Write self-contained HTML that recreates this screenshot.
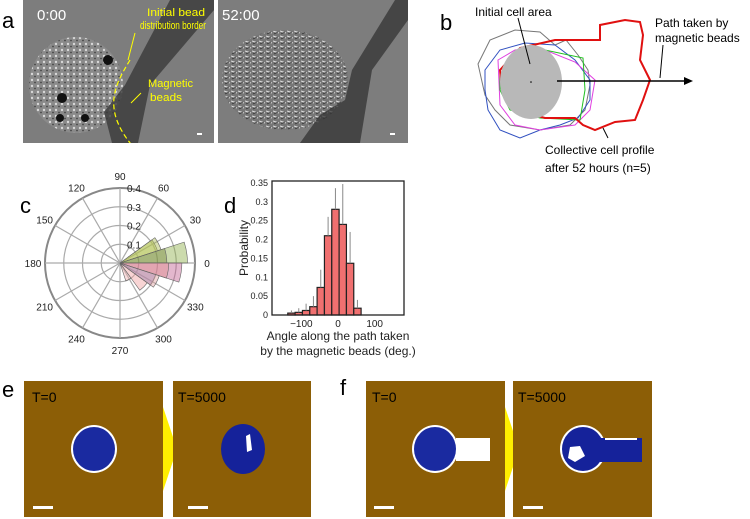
<!DOCTYPE html>
<html><head><meta charset="utf-8">
<style>
body{margin:0;background:#fff;width:750px;height:519px;overflow:hidden;font-family:"Liberation Sans",sans-serif;}
svg{display:block}
</style></head>
<body>
<svg id="fig" width="750" height="519" viewBox="0 0 750 519">
<defs>
<pattern id="tex" width="6" height="6" patternUnits="userSpaceOnUse">
<rect width="6" height="6" fill="#8a8a8a"/><circle cx="2" cy="2" r="1.2" fill="#d8d8d8"/><circle cx="5" cy="4.5" r="0.9" fill="#444"/>
</pattern>
<pattern id="tex2" width="7" height="5" patternUnits="userSpaceOnUse">
<rect width="7" height="5" fill="#777"/><path d="M0 1 L6 3" stroke="#e0e0e0" stroke-width="1"/><path d="M1 4 L5 2" stroke="#333" stroke-width="0.7"/>
</pattern>
<clipPath id="clipA1"><rect x="23" y="0" width="191" height="143"/></clipPath>
<clipPath id="clipA2"><rect x="218" y="0" width="190" height="143"/></clipPath>
</defs>

<g font-size="22" fill="#000">
<text x="2" y="28">a</text>
<text x="440" y="30">b</text>
<text x="20" y="213">c</text>
<text x="224" y="213">d</text>
<text x="2" y="397">e</text>
<text x="340" y="395">f</text>
</g>

<g clip-path="url(#clipA1)">
<rect x="23" y="0" width="191" height="143" fill="#7d7d7d"/>
<ellipse cx="76" cy="85" rx="47" ry="48" fill="url(#tex)"/>
<path d="M112 143 L104 112 L125 85 L170 0 L214 0 L214 10 L150 85 L138 143Z" fill="#3a3a3a" opacity="0.8"/>
<circle cx="108" cy="60" r="5" fill="#111"/><circle cx="62" cy="98" r="5" fill="#111"/><circle cx="60" cy="118" r="4" fill="#111"/><circle cx="85" cy="118" r="4" fill="#111"/>
<path d="M130 60 C115 85,100 110,136 150" stroke="#ff0" stroke-width="1.2" stroke-dasharray="5,3" fill="none"/>
<line x1="135" y1="33" x2="128" y2="60" stroke="#ff0" stroke-width="1"/>
<line x1="141" y1="93" x2="131" y2="103" stroke="#ff0" stroke-width="1"/>
<text x="37" y="20" fill="#fff" font-size="15">0:00</text>
<text x="147" y="16" fill="#ff0" font-size="11" textLength="58" lengthAdjust="spacingAndGlyphs">Initial bead</text>
<text x="140" y="29" fill="#ff0" font-size="11" textLength="66" lengthAdjust="spacingAndGlyphs">distribution border</text>
<text x="148" y="87" fill="#ff0" font-size="11" textLength="45" lengthAdjust="spacingAndGlyphs">Magnetic</text>
<text x="150" y="101" fill="#ff0" font-size="11" textLength="32" lengthAdjust="spacingAndGlyphs">beads</text>
<rect x="197" y="133" width="5" height="2" fill="#fff"/>
</g>
<g clip-path="url(#clipA2)">
<rect x="218" y="0" width="190" height="143" fill="#7d7d7d"/>
<ellipse cx="285" cy="80" rx="63" ry="50" fill="url(#tex2)"/>
<path d="M300 143 L320 115 L345 100 L352 70 L395 0 L408 0 L408 20 L372 70 L360 143Z" fill="#333" opacity="0.75"/>
<text x="222" y="20" fill="#fff" font-size="15">52:00</text>
<rect x="390" y="133" width="5" height="2" fill="#fff"/>
</g>

<g fill="none" stroke-width="1">
<path d="M478 64 L490 40 L515 30 L540 32 L555 45 L566 40 L578 55 L588 70 L590 85 L585 110 L570 125 L540 130 L510 125 L495 110 L485 95Z" stroke="#777"/>
<path d="M485 70 L500 50 L525 43 L555 45 L575 60 L590 80 L590 100 L578 118 L560 125 L540 130 L520 138 L500 130 L488 110 L485 90Z" stroke="#3050c0"/>
<path d="M498 60 L515 50 L540 48 L575 62 L595 80 L590 110 L575 125 L540 130 L515 125 L500 105Z" stroke="#e040e0"/>
<path d="M500 70 L520 55 L545 50 L583 58 L585 90 L580 120 L540 118 L510 110 L500 90Z" stroke="#20c020"/>
<path d="M500 70 L520 48 L555 40 L600 40 L600 25 L625 20 L640 22 L643 35 L640 60 L650 80 L643 100 L635 120 L615 122 L595 130 L583 125 L575 118 L545 118 L515 110 L502 90Z" stroke="#e01010" stroke-width="2"/>
<ellipse cx="531" cy="82" rx="31" ry="37" fill="#b8b8b8" stroke="none"/>
<circle cx="531" cy="82" r="0.8" fill="#000"/>
<line x1="557" y1="81" x2="686" y2="81" stroke="#000" stroke-width="1.5"/>
<path d="M693 81 L684 77 L684 85Z" fill="#000" stroke="none"/>
<line x1="518" y1="18" x2="530" y2="64" stroke="#000"/>
<line x1="663" y1="45" x2="660" y2="78" stroke="#000"/>
<line x1="608" y1="138" x2="603" y2="128" stroke="#000"/>
<g fill="#000" stroke="none" font-size="12">
<text x="475" y="16">Initial cell area</text>
<text x="655" y="27">Path taken by</text>
<text x="655" y="42">magnetic beads</text>
<text x="545" y="154">Collective cell profile</text>
<text x="545" y="172">after 52 hours (n=5)</text>
</g>
</g>

<g id="polar"></g>
<g id="hist"></g>

<g>
<rect x="24" y="381" width="139" height="136" fill="#8c5e06"/>
<text x="32" y="402" font-size="14" fill="#000">T=0</text>
<ellipse cx="94" cy="449" rx="23" ry="24" fill="#fff"/>
<ellipse cx="94" cy="449" rx="21" ry="22" fill="#1a2aa0"/>
</g>
<path d="M163 407 L177 449 L163 491Z" fill="#ffee00"/>
<g>
<rect x="173" y="381" width="138" height="136" fill="#8c5e06"/>
<text x="178" y="402" font-size="14" fill="#000">T=5000</text>
<ellipse cx="243" cy="449" rx="22" ry="25" fill="#15229a"/>
<path d="M246 436 L250 434 L252 450 L247 452Z" fill="#fff"/>
</g>
<path d="M505 407 L519 449 L505 491Z" fill="#ffee00"/>
<g>
<rect x="366" y="381" width="139" height="136" fill="#8c5e06"/>
<text x="372" y="402" font-size="14" fill="#000">T=0</text>
<ellipse cx="435" cy="449" rx="23" ry="24" fill="#fff"/>
<ellipse cx="435" cy="449" rx="21" ry="22" fill="#1a2aa0"/>
<rect x="456" y="438" width="34" height="23" fill="#fff"/>
</g>
<g>
<rect x="513" y="381" width="139" height="136" fill="#8c5e06"/>
<text x="518" y="402" font-size="14" fill="#000">T=5000</text>
<ellipse cx="583" cy="449" rx="23" ry="24" fill="#fff"/>
<ellipse cx="583" cy="449" rx="21" ry="22" fill="#15229a"/>
<rect x="600" y="438" width="42" height="24" fill="#15229a"/>
<rect x="605" y="438" width="32" height="2" fill="#fff"/>
<path d="M570 447 L580 446 L585 456 L575 462 L568 458Z" fill="#fff"/>
</g>
<g fill="#fff">
<rect x="33" y="506" width="20" height="3"/>
<rect x="188" y="506" width="20" height="3"/>
<rect x="374" y="506" width="20" height="3"/>
<rect x="523" y="506" width="20" height="3"/>
</g>
</svg>
<script>
// ---- panel c data ----
const roseBinStarts=[0,18,0,18,-18,-36,-18,-36,-54,-72];
const roseValues=[0.36,0.21,0.25,0.23,0.33,0.2,0.26,0.22,0.18,0.1];
const roseColors=["#8fb04a","#c8d860","#7a8a40","#a8b850","#c06090","#7060b0","#e09090","#e0a0a0","#f0a0a0","#f0b0b0"];
const ringLabels=["0.1","0.2","0.3","0.4"];
const spokeAngles=[0,30,60,90,120,150,180,210,240,270,300,330];
// ---- panel d data ----
const binEdgeStart=-137, binWidth=20;
const probValues=[0.005,0.007,0.012,0.022,0.073,0.21,0.28,0.24,0.137,0.018];
const errTop=[0.012,0.018,0.03,0.05,0.12,0.26,0.336,0.347,0.22,0.04];
const xTicks=[-100,0,100];
const yTicks=[0,0.05,0.1,0.15,0.2,0.25,0.3,0.35];

const NS="http://www.w3.org/2000/svg";
function mk(parent,tag,attrs){const e=document.createElementNS(NS,tag);for(const k in attrs)e.setAttribute(k,attrs[k]);parent.appendChild(e);return e;}

(function(){
const g=document.getElementById('polar');
const cx=120,cy=263,R=75,rmax=0.4;
const rs=v=>v/rmax*R;
const pt=(a,r)=>[cx+r*Math.cos(a*Math.PI/180),cy-r*Math.sin(a*Math.PI/180)];
for(let i=1;i<=4;i++){const c=mk(g,'circle',{cx,cy,r:rs(i*0.1),fill:'none',stroke:i==4?'#888':'#aaa','stroke-width':i==4?2:1.2});

}
spokeAngles.forEach(a=>{const p=pt(a,R);const l=mk(g,'line',{x1:cx,y1:cy,x2:p[0],y2:p[1],stroke:'#aaa','stroke-width':1.2});


const q=pt(a,R+12);const t=mk(g,'text',{x:q[0],y:q[1]+4,'font-size':10,'text-anchor':'middle',fill:'#222'});t.textContent=a;

});
roseValues.forEach((v,i)=>{const a0=roseBinStarts[i],a1=a0+18,r=rs(v);const p0=pt(a0,r),p1=pt(a1,r);
const s=mk(g,'path',{d:`M${cx} ${cy}L${p0[0]} ${p0[1]}A${r} ${r} 0 0 0 ${p1[0]} ${p1[1]}Z`,fill:roseColors[i],'fill-opacity':0.45,stroke:'#666','stroke-width':0.6});

});
ringLabels.forEach((l,i)=>{const t=mk(g,'text',{x:cx+7,y:cy-rs((i+1)*0.1)+4,'font-size':10,fill:'#222'});t.textContent=l;

});
})();

(function(){
const g=document.getElementById('hist');
const x0=272,x1=404,yb=315,yt=181;
const X=d=>x0+(d+180)/360*(x1-x0);
const Y=v=>yb-v/0.355*(yb-yt);
probValues.forEach((v,i)=>{const a=binEdgeStart+i*binWidth;
const r=mk(g,'rect',{x:X(a),y:Y(v),width:X(a+binWidth)-X(a),height:yb-Y(v),fill:'#f07070',stroke:'#222','stroke-width':1.2});


const cxm=X(a+binWidth/2);
const e=mk(g,'line',{x1:cxm,y1:Y(v),x2:cxm,y2:Y(errTop[i]),stroke:'#888','stroke-width':1});

});
const fr=mk(g,'rect',{x:x0,y:yt,width:x1-x0,height:yb-yt,fill:'none',stroke:'#222','stroke-width':1.3});


xTicks.forEach(t=>{const l=mk(g,'text',{x:X(t),y:yb+12,'font-size':10,'text-anchor':'middle',fill:'#222'});l.textContent=t<0?'\u2212'+(-t):t;

});
yTicks.forEach(t=>{const l=mk(g,'text',{x:x0-4,y:Y(t)+3,'font-size':9,'text-anchor':'end',fill:'#222'});l.textContent=t;

});
const yl=mk(g,'text',{transform:'translate(248,248) rotate(-90)','font-size':12,'text-anchor':'middle',fill:'#222'});yl.textContent='Probability';


const a=mk(g,'text',{x:338,y:340,'font-size':12,'text-anchor':'middle',fill:'#222'});a.textContent='Angle along the path taken';


const b=mk(g,'text',{x:338,y:355,'font-size':12,'text-anchor':'middle',fill:'#222'});b.textContent='by the magnetic beads (deg.)';


})();
</script>
</body></html>
